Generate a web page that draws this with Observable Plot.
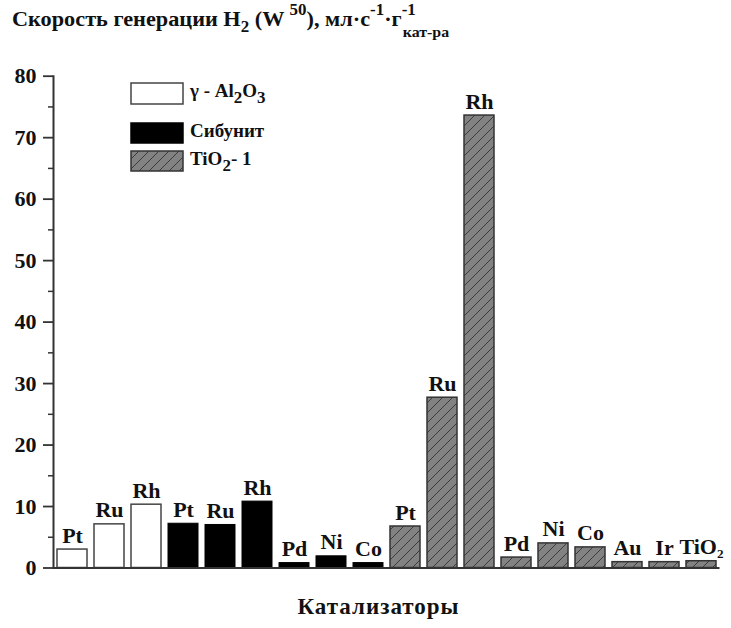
<!DOCTYPE html>
<html>
<head>
<meta charset="utf-8">
<script src="https://cdn.jsdelivr.net/npm/d3@7"></script>
<script src="https://cdn.jsdelivr.net/npm/@observablehq/plot@0.6"></script>
<style>
  html, body { margin: 0; padding: 0; background: #fff; }
  #wrap { position: relative; width: 731px; height: 628px; font-family: "Liberation Serif", "Times New Roman", serif; font-weight: bold; color: #111; overflow: hidden; }
  #title { position: absolute; left: 0; top: 0; height: 50px; width: 731px; font-size: 21px; white-space: nowrap; }
  #title .t { position: absolute; left: 12px; top: 7px; transform: scaleX(1.06); transform-origin: 0 0; }
  .sup { position: relative; top: -11px; font-size: 16px; }
  .sub { position: relative; top: 6px; font-size: 16px; }
  .stack { position: relative; display: inline-block; }
  .stack .subl { position: absolute; left: 1px; top: 17px; font-size: 15px; }
  #chart { position: absolute; left: 0; top: 50px; }
  #legend { position: absolute; left: 130px; top: 82px; font-size: 19px; }
  .item { position: absolute; left: 0; white-space: nowrap; }
  .item svg { position: absolute; left: 0; top: 0; }
  .item span.lab { position: absolute; left: 60px; }
  .lsub { position: relative; top: 6px; font-size: 17px; }
  #xlabel { position: absolute; left: 0; width: 757px; text-align: center; top: 594px; font-size: 23px; letter-spacing: 1px; }
</style>
</head>
<body>
<div id="wrap">
  <div id="title"><div class="t">Скорость генерации H<span class="sub">2</span> (W <span class="sup">50</span>), мл·с<span class="sup">-1</span>·г<span class="stack"><span class="sup">-1</span><span class="subl">кат-ра</span></span></div></div>
  <div id="chart"></div>
  <div id="legend"></div>
  <div id="xlabel">Катализаторы</div>
</div>
<script>
// Data
const labels = ["Pt","Ru","Rh","Pt","Ru","Rh","Pd","Ni","Co","Pt","Ru","Rh","Pd","Ni","Co","Au","Ir","TiO₂"];
const supports = ["Al2O3","Al2O3","Al2O3","Sib","Sib","Sib","Sib","Sib","Sib","TiO2","TiO2","TiO2","TiO2","TiO2","TiO2","TiO2","TiO2","TiO2"];
const values = [3.0, 7.1, 10.3, 7.2, 7.0, 10.8, 0.8, 1.9, 0.8, 6.75, 27.7, 73.6, 1.7, 4.0, 3.35, 0.95, 0.95, 1.1];
const yTicks = [0, 10, 20, 30, 40, 50, 60, 70, 80];
const yMinorTicks = [5, 15, 25, 35, 45, 55, 65, 75];

const data = labels.map((l, i) => ({i, label: l, support: supports[i], v: values[i]}));

const font = "Liberation Serif, Times New Roman, serif";
const axisColor = "#333";

const plot = Plot.plot({
  width: 731,
  height: 578,
  marginLeft: 53,
  marginRight: 11.5,
  marginTop: 25.7,
  marginBottom: 60.5,
  style: {fontFamily: font, fontWeight: "bold", fontSize: "22px", color: "#111", background: "#fff", overflow: "visible"},
  x: {type: "band", domain: d3.range(labels.length), paddingInner: 0.19, paddingOuter: 0.095, axis: null},
  y: {domain: [0, 80], axis: null},
  marks: [
    Plot.barY(data, {filter: d => d.support === "Al2O3", x: "i", y: "v", fill: "#fff", stroke: "#444", strokeWidth: 1.5}),
    Plot.barY(data, {filter: d => d.support === "Sib", x: "i", y: "v", fill: "#000", stroke: "#000", strokeWidth: 1}),
    Plot.barY(data, {filter: d => d.support === "TiO2", x: "i", y: "v", fill: "url(#hatch)", stroke: "#333", strokeWidth: 1.5}),
    Plot.text(data, {x: "i", y: "v", text: "label", dy: -7, lineAnchor: "bottom", fontSize: 22, fontWeight: "bold", fill: "#111"}),
    Plot.axisY({ticks: yTicks, label: null, tickSize: 10, tickPadding: 7, tickFormat: d => String(d), stroke: axisColor, strokeWidth: 1.8, fontSize: 22, fontWeight: "bold", fill: "#111"}),
    Plot.axisY({ticks: yMinorTicks, label: null, tickSize: 5, tickFormat: () => "", stroke: axisColor, strokeWidth: 1.5}),
    Plot.frame({anchor: "left", stroke: axisColor, strokeWidth: 2}),
    Plot.ruleY([0], {stroke: axisColor, strokeWidth: 2})
  ]
});

const defs = `<defs><pattern id="hatch" patternUnits="userSpaceOnUse" width="10" height="10">
  <rect width="10" height="10" fill="#828282"/>
  <path d="M-1,11 L11,-1 M-4,4 L4,-4 M6,14 L14,6" stroke="#3c3c3c" stroke-width="1"/>
</pattern></defs>`;
plot.insertAdjacentHTML("afterbegin", defs);
document.getElementById("chart").appendChild(plot);

// Legend
const legendItems = [
  {top: 0, h: 21, fill: "#fff", stroke: "#444", html: 'γ - Al<span class="lsub">2</span>O<span class="lsub">3</span>', ty: -2},
  {top: 40, h: 20, fill: "#000", stroke: "#000", html: 'Сибунит', ty: -2},
  {top: 68, h: 20, fill: "url(#hatch2)", stroke: "#333", html: 'TiO<span class="lsub">2</span>- 1', ty: -2}
];
const leg = document.getElementById("legend");
legendItems.forEach(it => {
  const div = document.createElement("div");
  div.className = "item";
  div.style.top = it.top + "px";
  div.innerHTML = `<svg width="54" height="${it.h + 2}"><defs><pattern id="hatch2" patternUnits="userSpaceOnUse" width="10" height="10">
  <rect width="10" height="10" fill="#828282"/>
  <path d="M-1,11 L11,-1 M-4,4 L4,-4 M6,14 L14,6" stroke="#3c3c3c" stroke-width="1"/>
</pattern></defs><rect x="1" y="1" width="52" height="${it.h}" fill="${it.fill}" stroke="${it.stroke}" stroke-width="1.5"/></svg><span class="lab" style="top:${it.ty}px">${it.html}</span>`;
  leg.appendChild(div);
});
</script>
</body>
</html>
